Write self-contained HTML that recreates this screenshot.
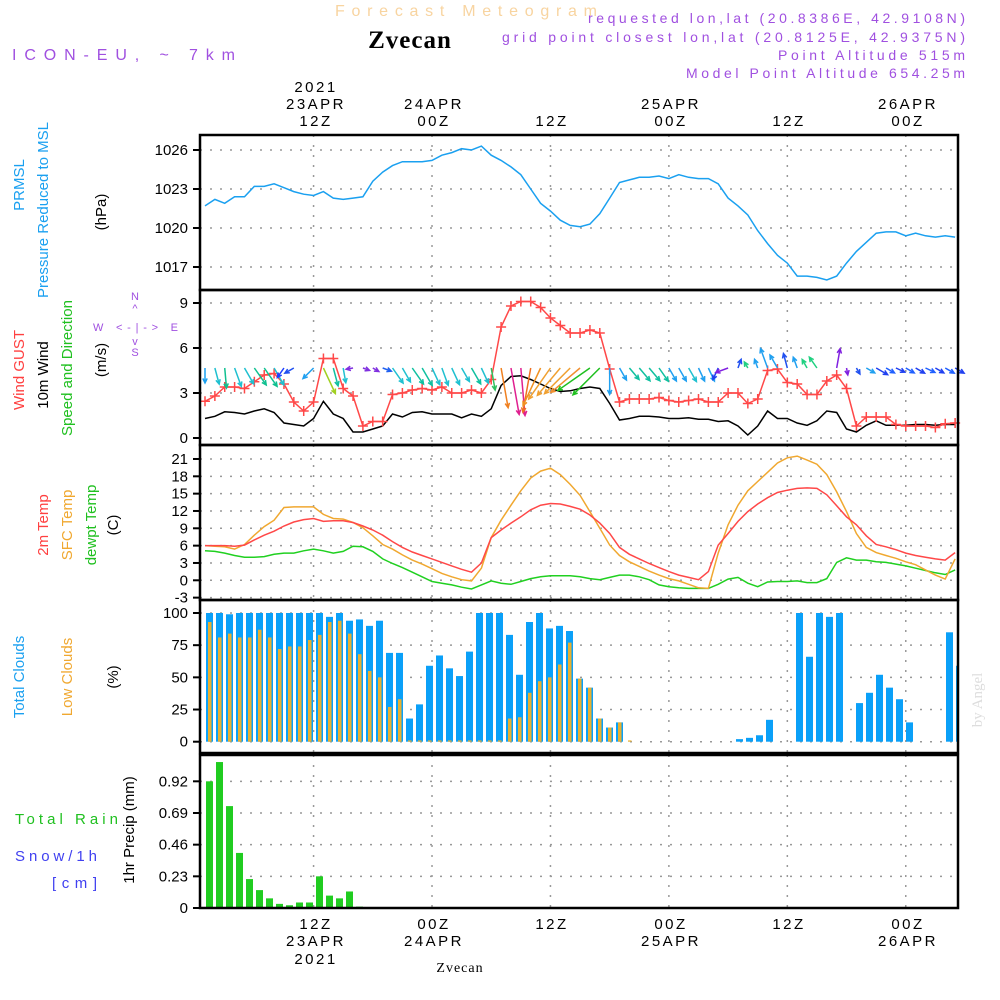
<!DOCTYPE html>
<html><head><meta charset="utf-8"><style>
body{margin:0;background:#fff;}
svg{display:block;font-family:"Liberation Sans",sans-serif;}
</style></head><body>
<svg id="chart" width="1000" height="1000" viewBox="0 0 1000 1000" xmlns="http://www.w3.org/2000/svg">
<g id="gridlayer"></g>
<g id="marks"></g>
<g id="frames" fill="none" stroke="#000" stroke-width="2.5">
<rect x="200" y="135" width="758" height="155"/>
<rect x="200" y="290" width="758" height="155"/>
<rect x="200" y="445" width="758" height="155"/>
<rect x="200" y="600" width="758" height="153"/>
<rect x="200" y="755" width="758" height="153"/>
</g>
<g id="labels" font-size="15">
<text x="335" y="16" fill="#f8d4a0" font-size="16" textLength="262" lengthAdjust="spacing">Forecast Meteogram</text>
<text x="410" y="48" text-anchor="middle" font-family="Liberation Serif,serif" font-weight="bold" font-size="25" letter-spacing="1">Zvecan</text>
<text x="12" y="60" fill="#a050e0" font-size="16" textLength="223" lengthAdjust="spacing">ICON-EU, ~ 7km</text>
<g fill="#a050e0" font-size="14">
<text x="588" y="23" textLength="377" lengthAdjust="spacing">requested lon,lat (20.8386E, 42.9108N)</text>
<text x="502" y="42" textLength="463" lengthAdjust="spacing">grid point closest lon,lat (20.8125E, 42.9375N)</text>
<text x="778" y="60" textLength="187" lengthAdjust="spacing">Point Altitude 515m</text>
<text x="686" y="78" textLength="279" lengthAdjust="spacing">Model Point Altitude 654.25m</text>
</g>
<g text-anchor="middle" letter-spacing="2.5">
<text x="316" y="92">2021</text><text x="316" y="109">23APR</text><text x="316" y="126">12Z</text>
<text x="434" y="109">24APR</text><text x="434" y="126">00Z</text>
<text x="552" y="126">12Z</text>
<text x="671" y="109">25APR</text><text x="671" y="126">00Z</text>
<text x="789" y="126">12Z</text>
<text x="908" y="109">26APR</text><text x="908" y="126">00Z</text>
</g>
<g text-anchor="middle" letter-spacing="2.5">
<text x="316" y="929">12Z</text><text x="316" y="946">23APR</text><text x="316" y="964">2021</text>
<text x="434" y="929">00Z</text><text x="434" y="946">24APR</text>
<text x="552" y="929">12Z</text>
<text x="671" y="929">00Z</text><text x="671" y="946">25APR</text>
<text x="789" y="929">12Z</text>
<text x="908" y="929">00Z</text><text x="908" y="946">26APR</text>
</g>
<text x="460" y="972" text-anchor="middle" font-family="Liberation Serif,serif" font-size="14" letter-spacing="1">Zvecan</text>
<g>
<text transform="translate(24,185) rotate(-90)" text-anchor="middle" fill="#1aa0f0">PRMSL</text>
<text transform="translate(48,210) rotate(-90)" text-anchor="middle" fill="#1aa0f0">Pressure Reduced to MSL</text>
<text transform="translate(106,212) rotate(-90)" text-anchor="middle">(hPa)</text>
</g>
<g>
<text transform="translate(24,370) rotate(-90)" text-anchor="middle" fill="#ff4040">Wind GUST</text>
<text transform="translate(48,375) rotate(-90)" text-anchor="middle">10m Wind</text>
<text transform="translate(72,368) rotate(-90)" text-anchor="middle" fill="#20c020">Speed and Direction</text>
<text transform="translate(106,360) rotate(-90)" text-anchor="middle">(m/s)</text>
<g fill="#a050e0" font-size="11" text-anchor="middle">
<text x="135" y="300">N</text><text x="135" y="312">^</text><text x="93" y="331" text-anchor="start" textLength="85" lengthAdjust="spacing">W &lt;-|-&gt; E</text><text x="135" y="345">v</text><text x="135" y="356">S</text>
</g>
</g>
<g>
<text transform="translate(48,525) rotate(-90)" text-anchor="middle" fill="#ff4040">2m Temp</text>
<text transform="translate(72,525) rotate(-90)" text-anchor="middle" fill="#f0a830">SFC Temp</text>
<text transform="translate(96,525) rotate(-90)" text-anchor="middle" fill="#20c020">dewpt Temp</text>
<text transform="translate(118,525) rotate(-90)" text-anchor="middle">(C)</text>
</g>
<g>
<text transform="translate(24,677) rotate(-90)" text-anchor="middle" fill="#1aa0f0">Total Clouds</text>
<text transform="translate(72,677) rotate(-90)" text-anchor="middle" fill="#f0a830">Low Clouds</text>
<text transform="translate(118,677) rotate(-90)" text-anchor="middle">(%)</text>
</g>
<g>
<text x="15" y="824" fill="#20c020" textLength="103" lengthAdjust="spacing">Total  Rain</text>
<text x="15" y="861" fill="#4040f0" textLength="82" lengthAdjust="spacing">Snow/1h</text>
<text x="52" y="888" fill="#4040f0" textLength="45" lengthAdjust="spacing">[cm]</text>
<text transform="translate(134,830) rotate(-90)" text-anchor="middle">1hr Precip (mm)</text>
</g>
<text transform="translate(982,700) rotate(-90)" text-anchor="middle" fill="#ddd" font-family="Liberation Serif,serif" font-size="15">by Angel</text>
</g>
<g id="ticks" font-size="15" text-anchor="end"></g>
</svg>
<script>
const pres=[1021.7,1022.2,1021.9,1022.4,1022.4,1023.2,1023.2,1023.4,1023.1,1022.8,1022.6,1022.5,1022.8,1022.3,1022.2,1022.3,1022.4,1023.6,1024.3,1024.8,1025.1,1025.1,1025.1,1025.2,1025.6,1025.8,1026.1,1026.0,1026.3,1025.6,1025.2,1024.7,1024.1,1023.0,1021.9,1021.3,1020.6,1020.2,1020.1,1020.3,1021.1,1022.3,1023.5,1023.7,1023.9,1023.9,1024.0,1023.8,1024.1,1023.9,1023.8,1023.8,1023.4,1022.3,1021.7,1021.0,1019.8,1018.8,1017.9,1017.3,1016.3,1016.3,1016.2,1016.0,1016.3,1017.3,1018.2,1018.9,1019.6,1019.7,1019.7,1019.4,1019.6,1019.4,1019.3,1019.4,1019.3];
const gust=[2.45,2.8,3.4,3.4,3.3,3.75,4.2,4.3,3.6,2.4,1.8,2.4,5.3,5.3,3.3,2.8,0.8,1.1,1.1,2.9,3.0,3.2,3.3,3.2,3.4,3.0,3.0,3.2,3.0,3.9,7.4,8.8,9.1,9.1,8.7,8.0,7.5,7.0,7.0,7.2,7.0,4.6,2.4,2.6,2.6,2.6,2.7,2.5,2.4,2.5,2.6,2.4,2.4,3.0,3.0,2.3,2.6,4.5,4.6,3.7,3.6,2.9,2.9,3.8,4.2,3.3,0.8,1.4,1.4,1.4,0.9,0.8,0.8,0.8,0.7,0.95,1.0];
const wind=[1.3,1.45,1.75,1.7,1.6,1.8,1.95,1.7,1.0,0.9,0.8,1.3,2.45,1.6,1.3,0.4,0.4,0.6,0.8,1.6,1.4,1.7,1.75,1.6,1.6,1.6,1.35,1.6,1.45,1.95,3.5,4.1,4.15,3.9,3.6,3.3,3.1,3.15,3.3,3.4,3.3,2.3,1.2,1.3,1.45,1.45,1.4,1.3,1.3,1.35,1.25,1.25,1.1,1.15,0.8,0.2,0.8,1.8,1.3,1.3,1.0,0.85,1.15,1.8,1.7,0.6,0.4,0.85,1.15,0.85,0.85,0.85,0.9,0.9,0.85,0.9,0.9];
const windDir=[360,345,355,340,330,325,325,330,35,60,null,45,335,345,350,80,290,300,290,325,330,325,330,335,340,335,330,330,335,350,350,350,355,10,25,35,40,45,50,55,45,360,330,320,320,320,325,330,330,330,335,335,25,70,200,150,160,160,150,165,160,150,145,null,190,350,330,300,300,300,295,300,300,295,300,300,300];
const windCol=['#1aa0f0','#20c0d0','#10c090','#20c0d0','#20c0d0','#10c090','#10c090','#20c0d0','#2040ff','#2050f0','#20a0f0','#20a0f0','#a0d020','#10c0a0','#20c0d0','#8030e0','#8030e0','#8030e0','#2060f0','#20c0d0','#20c0d0','#10c0a0','#10c0a0','#20c0d0','#20c0d0','#20c0d0','#20c0d0','#10c0a0','#20c0d0','#30c060','#f08020','#e02090','#e02090','#f07020','#f09020','#f0a030','#f0a030','#f0a030','#f09030','#20c020','#20c020','#20a0f0','#20a0f0','#10c0a0','#10c0a0','#10c0a0','#10c0a0','#20a0f0','#20a0f0','#20c0d0','#20a0f0','#20a0f0','#2040f0','#8020e0','#2050f0','#20d080','#20a0f0','#20a0f0','#20a0f0','#2050f0','#20a0f0','#20d080','#20d080','#20a0f0','#8020e0','#8020e0','#2050f0','#20a0f0','#2040f0','#2060ff','#2040f0','#2060ff','#2040f0','#2060ff','#2040f0','#2060ff','#2040f0'];
const t2m=[6.0,6.0,6.0,5.9,6.1,7.0,7.8,8.5,9.4,10.1,10.5,10.7,10.2,10.3,10.3,10.0,9.4,8.7,7.8,6.7,5.7,4.9,4.3,3.7,3.1,2.5,1.9,1.4,3.0,7.4,8.7,9.9,11.0,12.2,13.0,13.3,13.2,12.8,12.3,11.3,9.9,8.1,5.7,4.5,3.7,2.9,2.2,1.5,0.9,0.5,0.1,1.5,6.1,8.1,10.2,11.9,13.2,14.3,15.2,15.6,15.9,16.0,15.9,14.8,12.9,11.0,9.6,7.7,6.2,5.8,5.3,4.7,4.3,4.0,3.7,3.5,4.8];
const tsfc=[6.0,5.9,5.8,5.4,6.2,7.8,9.3,10.4,12.6,12.7,12.7,12.7,11.4,10.7,10.6,10.0,9.1,7.7,6.2,5.4,4.4,3.5,2.8,2.0,1.2,0.6,0.1,-0.1,2.1,7.4,10.4,13.0,15.5,17.7,18.9,19.4,18.3,16.6,14.7,11.9,9.0,6.1,4.3,3.2,2.4,1.6,0.9,0.3,-0.1,-0.7,-1.3,-1.4,4.7,9.6,13.0,15.5,17.1,18.7,20.3,21.2,21.5,20.8,20.1,18.3,15.3,11.9,8.1,5.7,4.8,4.3,3.8,3.2,2.7,1.8,0.9,0.2,3.7];
const tdew=[5.1,5.0,4.7,4.3,4.0,4.0,4.1,4.5,4.7,4.7,5.1,5.4,5.1,4.7,5.0,5.9,5.8,5.0,3.7,2.9,2.2,1.4,0.6,-0.2,-0.5,-0.8,-1.2,-1.5,-0.8,-0.1,-0.5,-0.7,-0.2,0.3,0.6,0.8,0.8,0.8,0.6,0.3,0.1,0.5,0.9,0.9,0.6,0.1,-0.8,-1.1,-1.3,-1.4,-1.4,-1.4,-0.7,0.2,0.5,-0.5,-1.1,-0.3,-0.2,-0.2,-0.1,-0.4,-0.4,0.3,3.1,3.9,3.5,3.5,3.2,3.1,2.8,2.5,2.1,1.7,1.3,1.0,1.8];
const cloudTotal=[100,100,99,100,100,100,100,100,100,100,100,100,97,100,94,95,90,94,69,69,18,29,59,67,57,51,70,100,100,100,83,52,93,100,88,90,86,49,42,18,11,15,0,0,0,0,0,0,0,0,0,0,0,2,3,5,17,0,0,100,66,100,97,100,0,30,38,52,42,33,15,0,0,0,85,59];
const cloudLow=[93,81,84,81,81,87,81,72,74,74,79,83,93,94,84,68,55,50,27,33,1,1,1,1,1,1,1,1,1,1,18,19,38,47,50,60,77,49,42,18,11,15,1,0,0,0,0,0,0,0,0,0,0,0,0,0,0,0,0,0,0,0,0,0,0,0,0,0,0,0,0,0,0,0,0,0];
const rain=[0.92,1.06,0.74,0.40,0.21,0.13,0.07,0.03,0.02,0.04,0.04,0.23,0.09,0.07,0.12,0.01];
const presTicks=[1026,1023,1020,1017];
const windTicks=[9,6,3,0];
const tempTicks=[21,18,15,12,9,6,3,0,-3];
const cloudTicks=[100,75,50,25,0];
const rainTicks=[0.92,0.69,0.46,0.23,0];
const timeTickHours=[11,23,35,47,59,71];

const NS='http://www.w3.org/2000/svg';
const xP=i=>205+9.87*i;
const xB=k=>206+10*k;
const yPres=p=>150+(1026-p)*13;
const yWind=v=>438-v*15;
const yTemp=t=>580.3-t*5.777;
const yCloud=v=>741.7-v*1.287;
const yRain=v=>908-v/0.23*31.67;
function mk(tag,attrs,parent){const e=document.createElementNS(NS,tag);for(const k in attrs)e.setAttribute(k,attrs[k]);parent.appendChild(e);return e;}
const grid=document.getElementById('gridlayer'),marks=document.getElementById('marks'),ticks=document.getElementById('ticks');
const panels=[[135,290,presTicks,yPres],[290,445,windTicks,yWind],[445,600,tempTicks,yTemp],[600,753,cloudTicks,yCloud],[755,908,rainTicks,yRain]];
panels.forEach(([top,bot,tv,yf])=>{
  tv.forEach(v=>{const y=yf(v);
    if(y>top+1&&y<bot-1){const l=mk('line',{x1:200,x2:958,y1:y,y2:y,stroke:'#999','stroke-width':1.5,'stroke-dasharray':'2 8'},grid);
    
    }
    const tk=mk('line',{x1:193,x2:200,y1:y,y2:y,stroke:'#000','stroke-width':2},ticks);
    
    
    const t=mk('text',{x:188,y:y+5},ticks);t.textContent=String(v);
    
    
  });
  timeTickHours.forEach(h=>{const x=xP(h);
    const l=mk('line',{x1:x,x2:x,y1:top,y2:bot,stroke:'#999','stroke-width':1.5,'stroke-dasharray':'2 8'},grid);
    
    });
});
function poly(arr,yf,col,name,w){const pts=arr.map((v,i)=>xP(i).toFixed(1)+','+yf(v).toFixed(1)).join(' ');
  const p=mk('polyline',{points:pts,fill:'none',stroke:col,'stroke-width':w||1.5},marks);
  
  }
poly(pres,yPres,'#1aa0f0','pressure-line');
cloudTotal.forEach((v,k)=>{const x=xB(k);const w=Math.min(7,958-x);if(w<=0)return;
  const b=mk('rect',{x:x,y:yCloud(v),width:w,height:yCloud(0)-yCloud(v),fill:'#0aa0f8'},marks);
  
  
  const lv=cloudLow[k];if(lv>0){const lb=mk('rect',{x:x+2,y:yCloud(lv),width:Math.max(0,Math.min(3.5,958-x-2)),height:yCloud(0)-yCloud(lv),fill:'#e8b030'},marks);
  
  }
});
rain.forEach((v,k)=>{const x=xB(k);
  const b=mk('rect',{x:x,y:yRain(v),width:7,height:yRain(0)-yRain(v),fill:'#20cc20'},marks);
  
  });
poly(tdew,yTemp,'#20d020','dewpoint-line');
poly(tsfc,yTemp,'#f0a830','sfc-temp-line');
poly(t2m,yTemp,'#ff4848','temp-2m-line');
poly(wind,yWind,'#000','wind-speed-line');
poly(gust,yWind,'#ff4848','gust-line');
gust.forEach((v,i)=>{const x=xP(i),y=yWind(v);
  const c=mk('path',{d:`M${x-5},${y}H${x+5}M${x},${y-5}V${y+5}`,stroke:'#ff4848','stroke-width':1.5},marks);
  
  });
windDir.forEach((d,i)=>{if(d===null)return;
  const L=Math.max(7,11.5*wind[i]);const r=d*Math.PI/180;
  const dx=-Math.sin(r),dy=Math.cos(r);const x0=xP(i),y0=368;const x1=x0+dx*L,y1=y0+dy*L;
  const a=Math.atan2(dy,dx),h=5;
  const hx1=x1-h*Math.cos(a-0.45),hy1=y1-h*Math.sin(a-0.45),hx2=x1-h*Math.cos(a+0.45),hy2=y1-h*Math.sin(a+0.45);
  const p=mk('path',{d:`M${x0},${y0}L${x1},${y1}M${hx1},${hy1}L${x1},${y1}L${hx2},${hy2}`,stroke:windCol[i],'stroke-width':1.5,fill:'none'},marks);
  
  });
</script>
</body></html>
